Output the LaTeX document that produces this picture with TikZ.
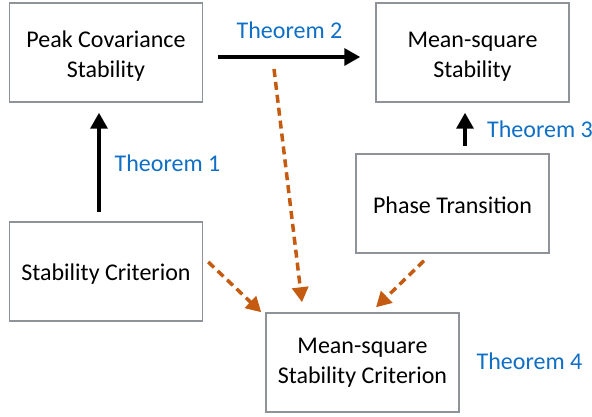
\documentclass[tikz,border=0pt]{standalone}
\usepackage{fontspec}
\setmainfont{Carlito}
\usetikzlibrary{arrows.meta}
\definecolor{boxgray}{HTML}{8E9399}
\definecolor{thblue}{HTML}{0F6FC6}
\definecolor{dorange}{HTML}{C55A11}
\newcommand\mytopstrut[1]{\rule{0pt}{#1}}
\begin{document}
\begin{tikzpicture}[x=1pt,y=1pt,
  box/.style={draw=boxgray,line width=1.5pt,fill=white,minimum width=193pt,minimum height=99pt,align=center,inner sep=0pt,font=\fontsize{24}{30}\selectfont},
  thlabel/.style={text=thblue,inner sep=0pt,font=\fontsize{24}{28}\selectfont},
  solidarrow/.style={line width=3.5pt,-{Triangle[length=16pt,width=17pt]}},
  dasharrow/.style={draw=dorange,line width=3.5pt,dash pattern=on 8pt off 5pt,-{Triangle[length=15pt,width=16pt]},dorange}]
\useasboundingbox (0,0) rectangle (592,417);
\node[box] (pcs) at (106,364.5) {\mytopstrut{24pt}Peak Covariance\\Stability};
\node[box] (mss) at (472.5,364.5) {\mytopstrut{24pt}Mean-square\\Stability};
\node[box] (pt) at (452.5,213.5) {\mytopstrut{21pt}Phase Transition};
\node[box] (sc) at (106,145.5) {\mytopstrut{21pt}Stability Criterion};
\node[box] (mssc) at (362.5,54.5) {Mean-square\\Stability Criterion};
\node[thlabel] (t1) at (167.5,254) {Theorem 1};
\node[thlabel] (t2) at (289.5,387) {Theorem 2};
\node[thlabel,anchor=west] (t3) at (487,288) {Theorem 3};
\node[thlabel] (t4) at (529.5,56) {Theorem 4};
\draw[solidarrow,shorten <=9pt,shorten >=10pt] ([xshift=-7pt]sc.north) -- ([xshift=-7pt]pcs.south);
\draw[solidarrow,shorten <=15pt,shorten >=15pt] ([yshift=-4.5pt]pcs.east) -- ([yshift=-4.5pt]mss.west);
\draw[solidarrow,shorten <=7pt,shorten >=10pt] ([xshift=12.5pt]pt.north) -- ([xshift=-7.5pt]mss.south);
\coordinate (d1) at (274,348);
\draw[dasharrow] (d1) -- ([shift={(-60.5,10)}]mssc.north);
\draw[dasharrow] ([shift={(5,9.5)}]sc.east) -- ([shift={(-4,0)}]mssc.north west);
\draw[dasharrow] ([shift={(-28.5,-7)}]pt.south) -- ([shift={(13.5,5)}]mssc.north);
\end{tikzpicture}
\end{document}
